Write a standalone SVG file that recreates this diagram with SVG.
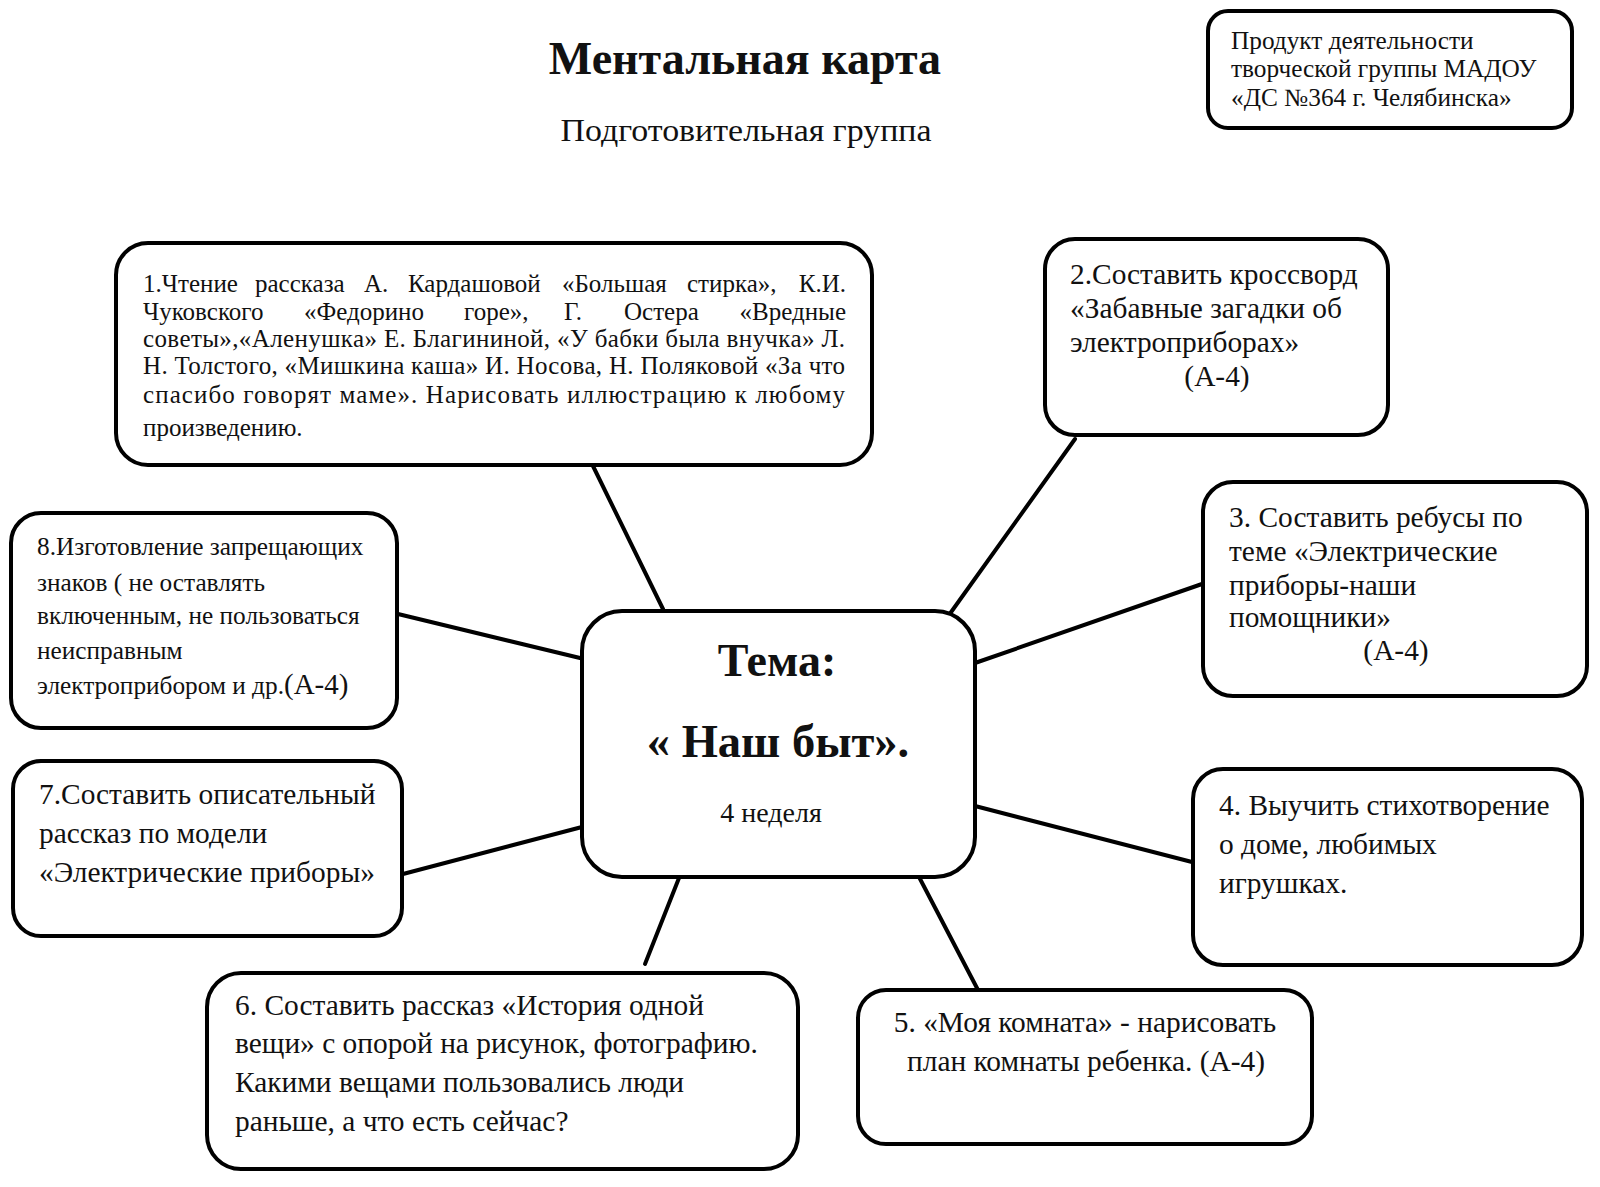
<svg xmlns="http://www.w3.org/2000/svg" width="1600" height="1187" viewBox="0 0 1600 1187">
<style>
.box{fill:#fff;stroke:#000;stroke-width:4}
.t{font-family:"Liberation Serif","Times New Roman",serif;fill:#111}
.s25{font-size:25px}
.s23{font-size:25.3px}
.s27{font-size:29.4px}
.c{text-anchor:middle}
.e{text-anchor:end}
.b{font-weight:bold}
.con line{stroke:#000;stroke-width:4;stroke-linecap:round}
</style>
<rect width="1600" height="1187" fill="#fff"/>
<g id="title">
<text class="t b c" x="745" y="74" font-size="46">Ментальная карта</text>
<text class="t c" x="746" y="141" font-size="31" textLength="371" lengthAdjust="spacingAndGlyphs">Подготовительная группа</text>
</g>
<g id="author">
<rect class="box" x="1208" y="11" width="364" height="117" rx="20"/>
<text class="t s23" x="1231" y="49">Продукт деятельности</text>
<text class="t s23" x="1231" y="77">творческой группы МАДОУ</text>
<text class="t s23" x="1231" y="106">«ДС №364 г. Челябинска»</text>
</g>
<g class="con" id="connectors">
<line x1="592" y1="464" x2="663" y2="609"/>
<line x1="1075" y1="439" x2="949" y2="615"/>
<line x1="1202" y1="584" x2="975" y2="663"/>
<line x1="1192" y1="862" x2="975" y2="806"/>
<line x1="978" y1="990" x2="918" y2="875"/>
<line x1="645" y1="964" x2="679" y2="878"/>
<line x1="403" y1="874" x2="582" y2="827"/>
<line x1="398" y1="614" x2="580" y2="658"/>
</g>
<g id="center">
<rect class="box" x="582" y="611" width="393" height="266" rx="40"/>
<text class="t b c" x="777" y="676" font-size="46">Тема:</text>
<text class="t b c" x="778" y="757" font-size="46.5">« Наш быт».</text>
<text class="t c" x="771" y="822" font-size="28">4 неделя</text>
</g>
<g id="node1">
<rect class="box" x="116" y="243" width="756" height="222" rx="32"/>
<text class="t s25" y="292"><tspan x="143">1.Чтение</tspan><tspan x="255">рассказа</tspan><tspan x="364">А.</tspan><tspan x="408">Кардашовой</tspan><tspan x="562">«Большая</tspan><tspan x="687">стирка»,</tspan></text>
<text class="t s25 e" x="846" y="292">К.И.</text>
<text class="t s25" y="320"><tspan x="143">Чуковского</tspan><tspan x="304">«Федорино</tspan><tspan x="464">горе»,</tspan><tspan x="564">Г.</tspan><tspan x="624">Остера</tspan></text>
<text class="t s25 e" x="846" y="320">«Вредные</text>
<text class="t s25" x="143" y="347" textLength="702" lengthAdjust="spacing">советы»,«Аленушка» Е. Благининой, «У бабки была внучка» Л.</text>
<text class="t s25" x="143" y="374" textLength="702" lengthAdjust="spacing">Н. Толстого, «Мишкина каша» И. Носова, Н. Поляковой «За что</text>
<text class="t s25" x="143" y="403" textLength="702" lengthAdjust="spacing">спасибо говорят маме». Нарисовать иллюстрацию к любому</text>
<text class="t s25" x="143" y="436">произведению.</text>
</g>
<g id="node2">
<rect class="box" x="1045" y="239" width="343" height="196" rx="30"/>
<text class="t s27" x="1070" y="284">2.Составить кроссворд</text>
<text class="t s27" x="1070" y="318">«Забавные загадки об</text>
<text class="t s27" x="1070" y="352">электроприборах»</text>
<text class="t s27 c" x="1217" y="386">(А-4)</text>
</g>
<g id="node3">
<rect class="box" x="1203" y="482" width="384" height="214" rx="30"/>
<text class="t s27" x="1229" y="527">3. Составить ребусы по</text>
<text class="t s27" x="1229" y="561">теме «Электрические</text>
<text class="t s27" x="1229" y="595">приборы-наши</text>
<text class="t s27" x="1229" y="627">помощники»</text>
<text class="t s27 c" x="1396" y="660">(А-4)</text>
</g>
<g id="node4">
<rect class="box" x="1193" y="769" width="389" height="196" rx="30"/>
<text class="t s27" x="1219" y="815">4. Выучить стихотворение</text>
<text class="t s27" x="1219" y="854">о доме, любимых</text>
<text class="t s27" x="1219" y="893">игрушках.</text>
</g>
<g id="node5">
<rect class="box" x="858" y="990" width="454" height="154" rx="28"/>
<text class="t s27 c" x="1085" y="1032">5. «Моя комната» - нарисовать</text>
<text class="t s27 c" x="1086" y="1071">план комнаты ребенка. (А-4)</text>
</g>
<g id="node6">
<rect class="box" x="207" y="973" width="591" height="196" rx="34"/>
<text class="t s27" x="235" y="1015">6. Составить рассказ «История одной</text>
<text class="t s27" x="235" y="1053">вещи» с опорой на рисунок, фотографию.</text>
<text class="t s27" x="235" y="1092">Какими вещами пользовались люди</text>
<text class="t s27" x="235" y="1131">раньше, а что есть сейчас?</text>
</g>
<g id="node7">
<rect class="box" x="13" y="761" width="389" height="175" rx="28"/>
<text class="t s27" x="39" y="804">7.Составить описательный</text>
<text class="t s27" x="39" y="843">рассказ по модели</text>
<text class="t s27" x="39" y="882">«Электрические приборы»</text>
</g>
<g id="node8">
<rect class="box" x="11" y="513" width="386" height="215" rx="30"/>
<text class="t s23" x="37" y="555">8.Изготовление запрещающих</text>
<text class="t s23" x="37" y="591">знаков ( не оставлять</text>
<text class="t s23" x="37" y="624">включенным, не пользоваться</text>
<text class="t s23" x="37" y="659">неисправным</text>
<text class="t s23" x="37" y="694">электроприбором и др.<tspan font-size="29">(А-4)</tspan></text>
</g>
</svg>
